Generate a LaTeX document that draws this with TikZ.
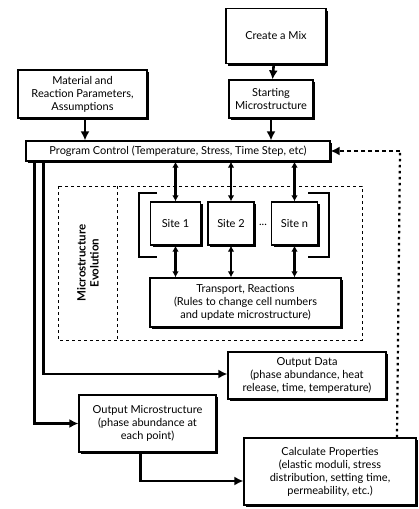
\documentclass[tikz,border=0pt]{standalone}
\usepackage{fontspec}
\setmainfont{Lato}
\usetikzlibrary{arrows.meta}
\usetikzlibrary{shadows}
\tikzset{
  box/.style={draw, fill=white, line width=1.2pt, align=center, font=\fontsize{11}{13}\selectfont,
    inner sep=1pt, drop shadow={shadow xshift=2pt, shadow yshift=-2pt, opacity=1, fill=black}},
  flow/.style={line width=2.6pt, -{Latex[length=9pt,width=9pt]}},
  link/.style={line width=2.2pt, {Latex[length=6pt,width=6.5pt]}-{Latex[length=6pt,width=6.5pt]}},
}
\newcommand{\siteBox}[3]{
   	\node[box, minimum width=#3, minimum height=43pt] (#1) at (#2,223.5) {};
}

\begin{document}
\begin{tikzpicture}[x=1pt, y=-1pt]
%%%%%%%%%%%%%%%%%%
\useasboundingbox (0,0) rectangle (418,509);

%Evolution frame
	\draw[dashed, line width=1pt] (58,186) rectangle (362,340);
	\draw[dashed, line width=1pt] (117,186) -- (117,340);
	\node[rotate=90, align=center, font=\bfseries\fontsize{11.5}{13}\selectfont] (evo) at (88,263) {Microstructure\\Evolution};

%Boxes
    \node[box, minimum width=100pt, minimum height=55pt] (mix) at (276,36) {Create a Mix};
    \node[box, minimum width=84pt, minimum height=38pt] (start) at (271,99) {Starting\\Microstructure};
    \node[box, minimum width=129pt, minimum height=48pt] (param) at (82.5,94) {Material and\\Reaction Parameters,\\Assumptions};
    \node[box, minimum width=304pt, minimum height=20pt] (control) at (178,151) {Program Control (Temperature, Stress, Time Step, etc)};

% Sites
\siteBox{site1}{175.5}{50pt}
\siteBox{site2}{231}{46pt}
\siteBox{siten}{294.5}{46pt}
    \node[font=\fontsize{11}{13}\selectfont] (s1) at (site1) {Site 1};
    \node[font=\fontsize{11}{13}\selectfont] (s2) at (site2) {Site 2};
    \node[font=\fontsize{11}{13}\selectfont] (sn) at (siten) {Site n};
    \node[font=\fontsize{11}{13}\selectfont] (dots) at (263,225) {...};
    \node[box, minimum width=191pt, minimum height=49pt] (transport) at (245.5,302.5) {Transport, Reactions\\(Rules to change cell numbers\\and update microstructure)};

%Outputs
    \node[box, minimum width=158pt, minimum height=47pt] (data) at (307,375.5) {Output Data\\(phase abundance, heat\\release, time, temperature)};
    \node[box, minimum width=137pt, minimum height=57pt] (outmicro) at (147.5,423.5) {Output Microstructure\\(phase abundance at\\each point)};
    \node[box, minimum width=172pt, minimum height=67pt] (calc) at (330,471.5) {Calculate Properties\\(elastic moduli, stress\\distribution, setting time,\\permeability, etc.)};

% Connect boxes
    \draw[flow] (mix) -- (start);
    \draw[flow] ([xshift=2.5pt]param.south) -- ([xshift=2.5pt]param.south |- control.north);
    \draw[flow] (start.south) -- (start.south |- control.north);
    \foreach \s in {site1,site2,siten}
    {
		\draw[link] (control.south -| \s.north) -- (\s.north);
		\draw[link] (\s.south) -- (\s.south |- transport.north);
    }
    \draw[flow] ([xshift=9pt]control.south west) |- (outmicro.west);
    \draw[flow] ([xshift=18pt]control.south west) |- ([yshift=1.5pt]data.west);
    \draw[flow] ([xshift=-7pt]outmicro.south) |- ([yshift=-9.5pt]calc.west);

% Feedback brackets
    \draw[line width=2.4pt] (157,193) -- (139,193) -- (139,257) -- (157,257);
    \draw[line width=2.4pt] (308,193) -- (329,193) -- (329,257) -- (308,257);

% Return path
    \coordinate (ret) at (400,151);
    \draw[line width=2.2pt, dash pattern=on 2.5pt off 3.5pt] ([xshift=67pt]calc.north) -- (ret);
    \draw[line width=1.8pt, dash pattern=on 4pt off 3pt, -{Latex[length=9pt,width=9pt]}] (ret) -- (control.east);

\end{tikzpicture}
\end{document}
